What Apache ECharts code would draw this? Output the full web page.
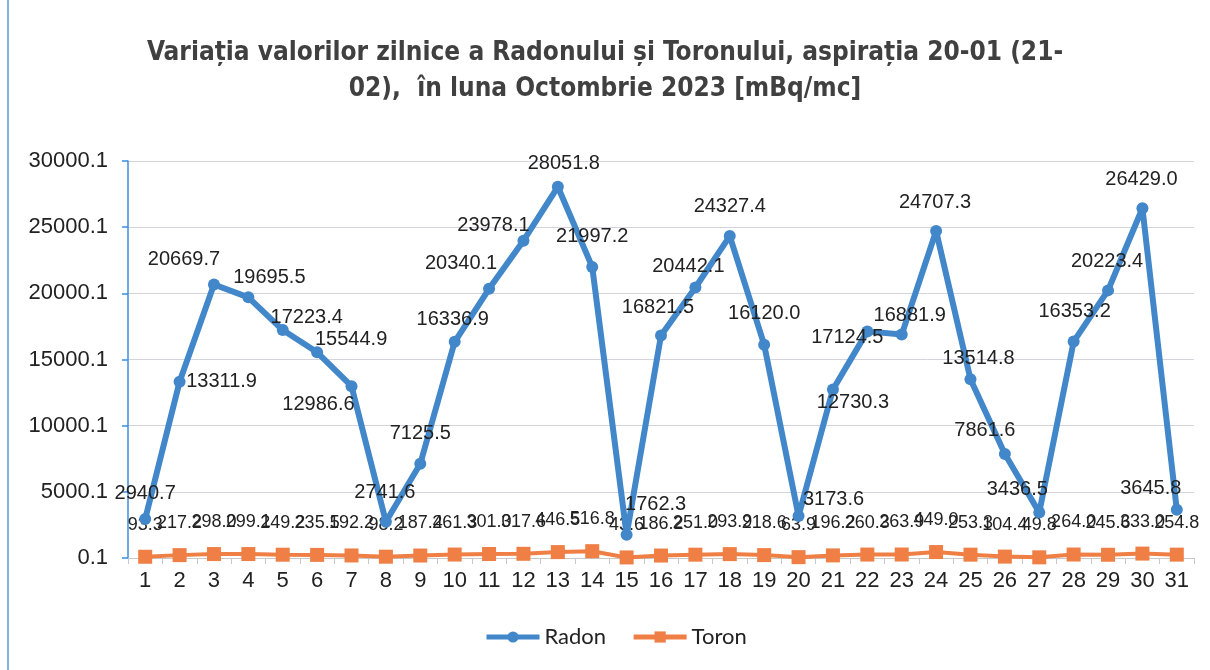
<!DOCTYPE html>
<html>
<head>
<meta charset="utf-8">
<script src="https://cdn.jsdelivr.net/npm/echarts@6/dist/echarts.min.js"></script>
<style>
  html, body { margin: 0; padding: 0; background: #fff; }
  #chart { width: 1210px; height: 670px; }
</style>
</head>
<body>
<div id="chart"></div>
<script>
// days of October 2023
const days = ["1", "2", "3", "4", "5", "6", "7", "8", "9", "10", "11", "12", "13", "14", "15", "16",
  "17", "18", "19", "20", "21", "22", "23", "24", "25", "26", "27", "28", "29", "30", "31"];

const radon = [2940.7, 13311.9, 20669.7, 19695.5, 17223.4, 15544.9, 12986.6, 2741.6, 7125.5, 16336.9,
  20340.1, 23978.1, 28051.8, 21997.2, 1762.3, 16821.5, 20442.1, 24327.4, 16120.0, 3173.6, 12730.3,
  17124.5, 16881.9, 24707.3, 13514.8, 7861.6, 3436.5, 16353.2, 20223.4, 26429.0, 3645.8];

const toron = [93.3, 217.2, 298.0, 299.1, 249.2, 235.5, 192.2, 98.2, 187.4, 261.3, 301.0, 317.6,
  446.5, 516.8, 43.6, 186.2, 251.0, 293.9, 218.6, 63.9, 196.2, 260.3, 263.9, 449.0, 253.3, 104.4,
  49.8, 264.0, 245.6, 333.0, 254.8];

// where each Radon label sits relative to its point (px), as placed in the original
const radonLabelShift = [
  [0, -26], [42, 0], [-30, -25], [21, -20], [24, -13], [34, -13], [-33, 18], [-1, -29],
  [0, -30], [-2, -22], [-28, -25], [-30, -15], [6, -23], [0, -30], [29, -30], [-3, -28],
  [-7, -21], [0, -30], [0, -31], [35, -17], [20, 13], [-20, 6], [8, -19], [-1, -29],
  [8, -21], [-20, -23], [-22, -23], [1, -30], [-1, -29], [-1, -29], [-26, -21],
];

const chart = echarts.init(document.getElementById("chart"), null, { renderer: "canvas" });

const labelFont = "'Liberation Sans', Arial, sans-serif";

chart.setOption({
  backgroundColor: "#fff",
  animation: false,
  title: {
    text: "Variația valorilor zilnice a Radonului și Toronului, aspirația 20-01 (21-\n02),  în luna Octombrie 2023 [mBq/mc]",
    left: "center",
    top: 30,
    textStyle: {
      color: "#404040",
      fontFamily: "'Liberation Sans Narrow', 'DejaVu Sans Condensed', sans-serif",
      fontSize: 26,
      fontWeight: "bold",
      lineHeight: 36,
      align: "center",
    },
  },
  legend: {
    bottom: 17,
    left: 479,
    itemWidth: 53,
    itemHeight: 14,
    itemGap: 25,
    lineStyle: { width: 5 },
    textStyle: {
      color: "#222",
      fontFamily: "Lato, 'Open Sans', sans-serif",
      fontSize: 22,
    },
    data: ["Radon", "Toron"],
  },
  grid: {
    left: 128,
    right: 16,
    top: 161,
    bottom: 112,
    containLabel: false,
  },
  xAxis: {
    type: "category",
    data: days,
    boundaryGap: true,
    axisLine: { lineStyle: { color: "#c8c8c8", width: 1 } },
    axisTick: { show: true, length: 6, lineStyle: { color: "#c8c8c8" } },
    axisLabel: {
      color: "#222",
      fontFamily: labelFont,
      fontSize: 22,
      margin: 12,
    },
  },
  yAxis: {
    type: "value",
    min: 0,
    max: 30000,
    interval: 5000,
    axisLine: { show: true, lineStyle: { color: "#3a8fe0", width: 1.5 } },
    axisTick: { show: true, length: 6, lineStyle: { color: "#3a8fe0", width: 1.5 } },
    splitLine: { lineStyle: { color: "#d4d4dc", width: 1 } },
    axisLabel: {
      color: "#222",
      fontFamily: labelFont,
      fontSize: 22,
      margin: 20,
      formatter: (value) => (value + 0.1).toFixed(1),
    },
  },
  series: [
    {
      name: "Radon",
      type: "line",
      data: radon.map((v, i) => ({
        value: v,
        label: { offset: radonLabelShift[i] },
      })),
      symbol: "circle",
      symbolSize: 12,
      z: 3,
      lineStyle: { color: "#4287c9", width: 6 },
      itemStyle: { color: "#4287c9" },
      label: {
        show: true,
        position: "inside",
        color: "#222",
        fontFamily: labelFont,
        fontSize: 20,
        formatter: (p) => p.value.toFixed(1),
      },
    },
    {
      name: "Toron",
      type: "line",
      data: toron,
      symbol: "rect",
      symbolSize: 14,
      z: 2,
      lineStyle: { color: "#ef7f45", width: 4 },
      itemStyle: { color: "#ef7f45" },
      label: {
        show: true,
        position: "top",
        distance: 16,
        color: "#222",
        fontFamily: labelFont,
        fontSize: 18,
        formatter: (p) => p.value.toFixed(1),
      },
    },
  ],
  graphic: [
    {
      type: "line",
      shape: { x1: 8, y1: 0, x2: 8, y2: 670 },
      style: { stroke: "#7fb3e6", lineWidth: 2 },
    },
  ],
});
</script>
</body>
</html>
